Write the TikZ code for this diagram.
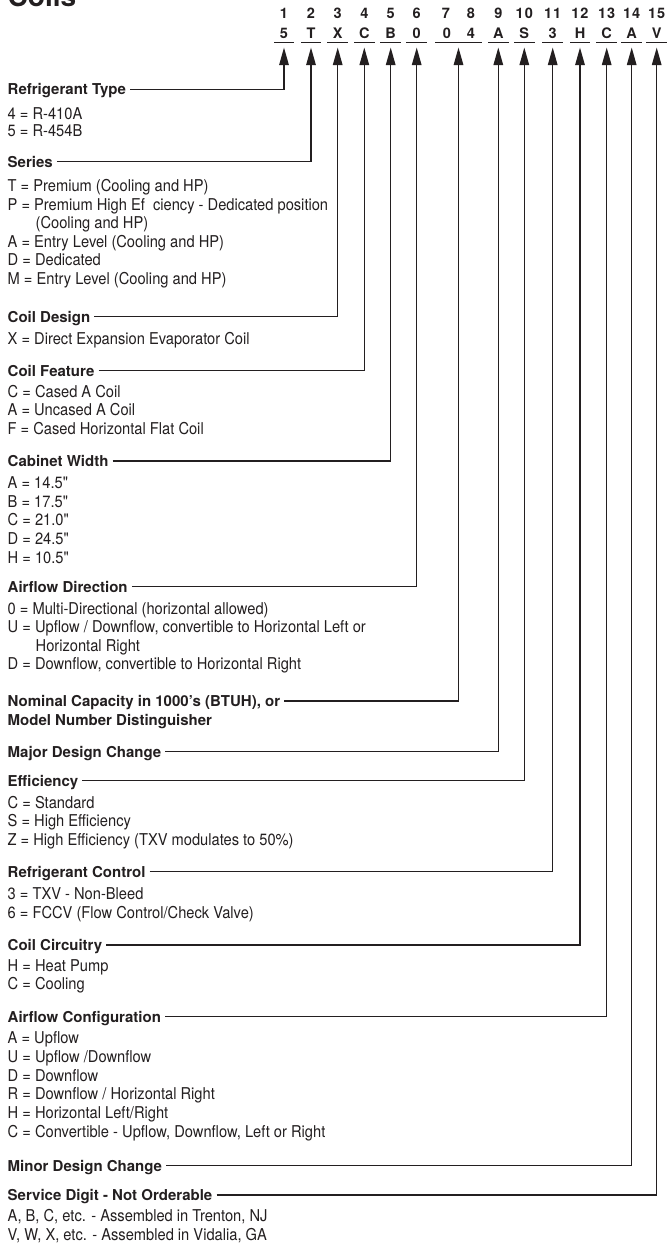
\documentclass[tikz,border=0pt]{standalone}
\usepackage{fontspec}
\setmainfont{TeX Gyre Heros}
\newfontfamily\condfont[FakeStretch=0.9]{TeX Gyre Heros}
\usetikzlibrary{arrows.meta}
\definecolor{ink}{HTML}{231F20}
\begin{document}
\begin{tikzpicture}[x=1pt,y=-1pt,
  every node/.style={inner sep=0pt, text=ink},
  head/.style={anchor=west, font=\fontsize{15}{18}\selectfont\bfseries, text height=10.8pt, text depth=0pt},
  val/.style={anchor=base west, font=\fontsize{16.3}{18}\selectfont\condfont},
  num/.style={anchor=base, font=\fontsize{14.5}{17}\selectfont\bfseries},
  uline/.style={fill=ink, minimum width=20.5pt, minimum height=1.3pt},
  conn/.style={draw=ink, line width=1.3pt, -{Triangle[length=17.5pt,width=9.5pt]}, shorten >=4pt},
]
\useasboundingbox (0,0) rectangle (668,1247);
\clip (0,0) rectangle (668,1247);
\fill[white] (0,0) rectangle (668,1247);

% title
\node[anchor=base west, font=\fontsize{28}{30}\selectfont\bfseries] (title) at (7.5,6.7) {Coils};

% header numbers
\node[num] (n1) at (284,18.4) {1};
\node[num] (n2) at (311,18.4) {2};
\node[num] (n3) at (337.7,18.4) {3};
\node[num] (n4) at (364.3,18.4) {4};
\node[num] (n5) at (390.7,18.4) {5};
\node[num] (n6) at (416.7,18.4) {6};
\node[num] (n7) at (446,18.4) {7};
\node[num] (n8) at (471,18.4) {8};
\node[num] (n9) at (498.3,18.4) {9};
\node[num] (n10) at (524.3,18.4) {1\kern1pt0};
\node[num] (n11) at (552.7,18.4) {1\kern1pt1};
\node[num] (n12) at (580,18.4) {1\kern1pt2};
\node[num] (n13) at (606.7,18.4) {1\kern1pt3};
\node[num] (n14) at (631.7,18.4) {1\kern1pt4};
\node[num] (n15) at (656.7,18.4) {1\kern1pt5};

% header letters
\node[num] (l1) at (284,38.3) {5};
\node[num] (l2) at (311,38.3) {T};
\node[num] (l3) at (337.7,38.3) {X};
\node[num] (l4) at (364.3,38.3) {C};
\node[num] (l5) at (390.7,38.3) {B};
\node[num] (l6) at (416.7,38.3) {0};
\node[num] (l7) at (447,38.3) {0};
\node[num] (l8) at (471,38.3) {4};
\node[num] (l9) at (498.3,38.3) {A};
\node[num] (l10) at (524.3,38.3) {S};
\node[num] (l11) at (552.7,38.3) {3};
\node[num] (l12) at (580,38.3) {H};
\node[num] (l13) at (606.7,38.3) {C};
\node[num] (l14) at (631.7,38.3) {A};
\node[num] (l15) at (656.7,38.3) {V};

% underlines
\node[uline] (u1) at (284,42.7) {};
\node[uline] (u2) at (311,42.7) {};
\node[uline] (u3) at (337.7,42.7) {};
\node[uline] (u4) at (364.3,42.7) {};
\node[uline] (u5) at (390.7,42.7) {};
\node[uline] (u6) at (416.7,42.7) {};
\node[uline, minimum width=47.4pt] (u78) at (458.5,42.7) {};
\node[uline] (u9) at (498.3,42.7) {};
\node[uline] (u10) at (524.3,42.7) {};
\node[uline] (u11) at (552.7,42.7) {};
\node[uline] (u12) at (580,42.7) {};
\node[uline] (u13) at (606.7,42.7) {};
\node[uline] (u14) at (631.7,42.7) {};
\node[uline] (u15) at (656.7,42.7) {};

% headings
\node[head] (hRT) at (7.5,89.3) {Refrigerant Type};
\node[head] (hSe) at (7.5,161.7) {Series};
\node[head] (hCD) at (7.5,316.7) {Coil Design};
\node[head] (hCF) at (7.5,370.7) {Coil Feature};
\node[head] (hCW) at (7.5,461) {Cabinet Width};
\node[head] (hAD) at (7.5,586.7) {Airflow Direction};
\node[head] (hNC) at (7.5,701) {Nominal Capacity in 1000's (BTUH), or};
\node[head] (hMN) at (7.5,720) {Model Number Distinguisher};
\node[head] (hMD) at (7.5,751.7) {Major Design Change};
\node[head] (hEf) at (7.5,780.7) {Efficiency};
\node[head] (hRC) at (7.5,871.7) {Refrigerant Control};
\node[head] (hCC) at (7.5,945) {Coil Circuitry};
\node[head] (hAC) at (7.5,1016.7) {Airflow Configuration};
\node[head] (hMi) at (7.5,1165.7) {Minor Design Change};
\node[head] (hSD) at (7.5,1195) {Service Digit - Not Orderable};

% values
\node[val] (vRT1) at (7.5,119.2) {4 = R-410A};
\node[val] (vRT2) at (7.5,136.6) {5 = R-454B};

\node[val] (vSe1) at (7.5,191.9) {T = Premium (Cooling and HP)};
\node[val] (vSe2) at (7.5,210.35) {P = Premium High Ef\ \ ciency - Dedicated position};
\node[val] (vSe3) at (35.5,228.8) {(Cooling and HP)};
\node[val] (vSe4) at (7.5,247.25) {A = Entry Level (Cooling and HP)};
\node[val] (vSe5) at (7.5,265.7) {D = Dedicated};
\node[val] (vSe6) at (7.5,284.15) {M = Entry Level (Cooling and HP)};

\node[val] (vCD1) at (7.5,344.2) {X = Direct Expansion Evaporator Coil};

\node[val] (vCF1) at (7.5,397.6) {C = Cased A Coil};
\node[val] (vCF2) at (7.5,415.9) {A = Uncased A Coil};
\node[val] (vCF3) at (7.5,434.2) {F = Cased Horizontal Flat Coil};

\node[val] (vCW1) at (7.5,488.6) {A = 14.5"};
\node[val] (vCW2) at (7.5,507.2) {B = 17.5"};
\node[val] (vCW3) at (7.5,525.8) {C = 21.0"};
\node[val] (vCW4) at (7.5,544.4) {D = 24.5"};
\node[val] (vCW5) at (7.5,563.0) {H = 10.5"};

\node[val] (vAD1) at (7.5,614.2) {0 = Multi-Directional (horizontal allowed)};
\node[val] (vAD2) at (7.5,632.6) {U = Upflow / Downflow, convertible to Horizontal Left or};
\node[val] (vAD3) at (35.5,651.6) {Horizontal Right};
\node[val] (vAD4) at (7.5,669.9) {D = Downflow, convertible to Horizontal Right};

\node[val] (vEf1) at (7.5,808.6) {C = Standard};
\node[val] (vEf2) at (7.5,826.6) {S = High Efficiency};
\node[val] (vEf3) at (7.5,845.2) {Z = High Efficiency (TXV modulates to 50\%)};

\node[val] (vRC1) at (7.5,899.2) {3 = TXV - Non-Bleed};
\node[val] (vRC2) at (7.5,918.5) {6 = FCCV (Flow Control/Check Valve)};

\node[val] (vCC1) at (7.5,971.6) {H = Heat Pump};
\node[val] (vCC2) at (7.5,989.2) {C = Cooling};

\node[val] (vAC1) at (7.5,1043.2) {A = Upflow};
\node[val] (vAC2) at (7.5,1062.1) {U = Upflow /Downflow};
\node[val] (vAC3) at (7.5,1081) {D = Downflow};
\node[val] (vAC4) at (7.5,1099.9) {R = Downflow / Horizontal Right};
\node[val] (vAC5) at (7.5,1118.8) {H = Horizontal Left/Right};
\node[val] (vAC6) at (7.5,1137.7) {C = Convertible - Upflow, Downflow, Left or Right};

\node[val] (vSD1) at (7.5,1221.9) {A, B, C, etc. - Assembled in Trenton, NJ};
\node[val] (vSD2) at (7.5,1240.9) {V, W, X, etc. - Assembled in Vidalia, GA};

% connectors
\draw[conn] ([xshift=4pt]hRT.east) -| (u1.south);
\draw[conn] ([xshift=4pt]hSe.east) -| (u2.south);
\draw[conn] ([xshift=4pt]hCD.east) -| (u3.south);
\draw[conn] ([xshift=4pt]hCF.east) -| (u4.south);
\draw[conn] ([xshift=4pt]hCW.east) -| (u5.south);
\draw[conn] ([xshift=4pt]hAD.east) -| (u6.south);
\draw[conn] ([xshift=4pt]hNC.east) -| (u78.south);
\draw[conn] ([xshift=4pt]hMD.east) -| (u9.south);
\draw[conn] ([xshift=4pt]hEf.east) -| (u10.south);
\draw[conn] ([xshift=4pt]hRC.east) -| (u11.south);
\draw[conn] ([xshift=4pt]hCC.east) -| (u12.south);
\draw[conn] ([xshift=4pt]hAC.east) -| (u13.south);
\draw[conn] ([xshift=4pt]hMi.east) -| (u14.south);
\draw[conn] ([xshift=4pt]hSD.east) -| (u15.south);
\end{tikzpicture}
\end{document}
